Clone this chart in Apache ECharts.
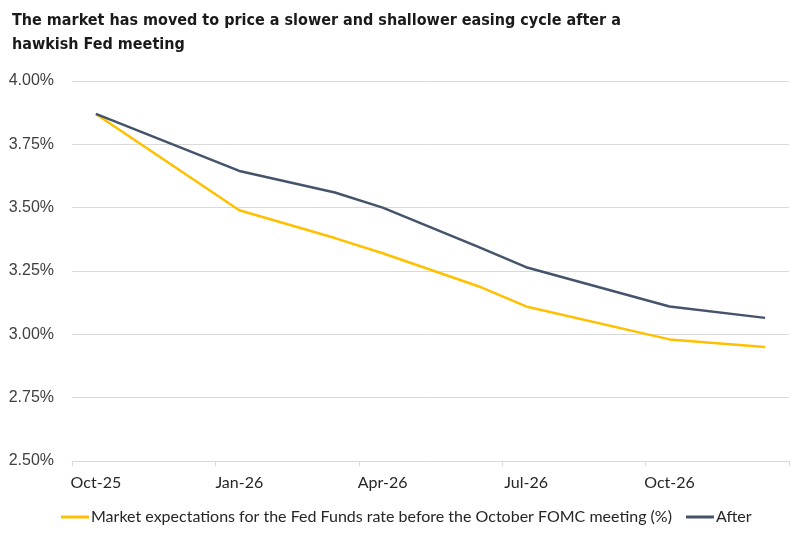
<!DOCTYPE html>
<html>
<head>
<meta charset="utf-8">
<script src="https://cdn.jsdelivr.net/npm/echarts@6/dist/echarts.min.js"></script>
<style>
html,body{margin:0;padding:0;background:#fff;}
#chart{width:795px;height:536px;}
</style>
</head>
<body>
<div id="chart"></div>
<script>
var months = ['Oct-25','Nov-25','Dec-25','Jan-26','Feb-26','Mar-26','Apr-26','May-26','Jun-26','Jul-26','Aug-26','Sep-26','Oct-26','Nov-26','Dec-26'];
var beforeName = 'Market expectations for the Fed Funds rate before the October FOMC meeting (%)';
var afterName = 'After';
var beforeValues = [3.87, null, null, 3.49, null, 3.38, 3.32, null, 3.19, 3.11, null, null, 2.98, null, 2.95];
var afterValues  = [3.87, null, null, 3.645, null, 3.56, 3.50, null, 3.345, 3.265, null, null, 3.11, null, 3.065];
var yTicks = {min: 2.5, max: 4.0, interval: 0.25};

var chart = echarts.init(document.getElementById('chart'), null, {renderer: 'canvas'});
chart.setOption({
  animation: false,
  backgroundColor: '#ffffff',
  title: {
    text: 'The market has moved to price a slower and shallower easing cycle after a\nhawkish Fed meeting',
    left: 7, top: 4,
    textStyle: {fontFamily: "'DejaVu Sans Condensed', 'DejaVu Sans', sans-serif", fontWeight: 'bold', fontSize: 16, lineHeight: 24, color: '#1a1a1a'}
  },
  grid: {left: 72, right: 6, top: 81, bottom: 75, containLabel: false},
  legend: {
    bottom: 6, left: 56,
    itemWidth: 28, itemHeight: 3, itemGap: 14,
    icon: 'rect',
    textStyle: {fontFamily: 'Lato', fontSize: 16, color: '#262626', padding: [0,0,0,-3]},
    data: [beforeName, afterName]
  },
  xAxis: {
    type: 'category',
    data: months,
    boundaryGap: true,
    axisLine: {show: true, lineStyle: {color: '#d9d9d9', width: 1}},
    axisTick: {show: true, interval: 2, length: 5, lineStyle: {color: '#d9d9d9'}},
    axisLabel: {interval: 2, margin: 14, fontFamily: 'Lato', fontSize: 16, color: '#262626'},
    splitLine: {show: false}
  },
  yAxis: {
    type: 'value',
    min: yTicks.min, max: yTicks.max, interval: yTicks.interval,
    axisLine: {show: false},
    axisTick: {show: false},
    axisLabel: {margin: 18, fontFamily: 'Liberation Sans', fontSize: 16, color: '#404040',
      formatter: function(v){ return v.toFixed(2) + '%'; }},
    splitLine: {show: true, lineStyle: {color: '#d9d9d9', width: 1}}
  },
  series: [
    {name: beforeName, type: 'line', data: beforeValues, connectNulls: true, showSymbol: false, symbol: 'none',
     lineStyle: {color: '#FFC000', width: 2.5}, itemStyle: {color: '#FFC000'}},
    {name: afterName, type: 'line', data: afterValues, connectNulls: true, showSymbol: false, symbol: 'none',
     lineStyle: {color: '#44546A', width: 2.5}, itemStyle: {color: '#44546A'}}
  ]
});
</script>
</body>
</html>
